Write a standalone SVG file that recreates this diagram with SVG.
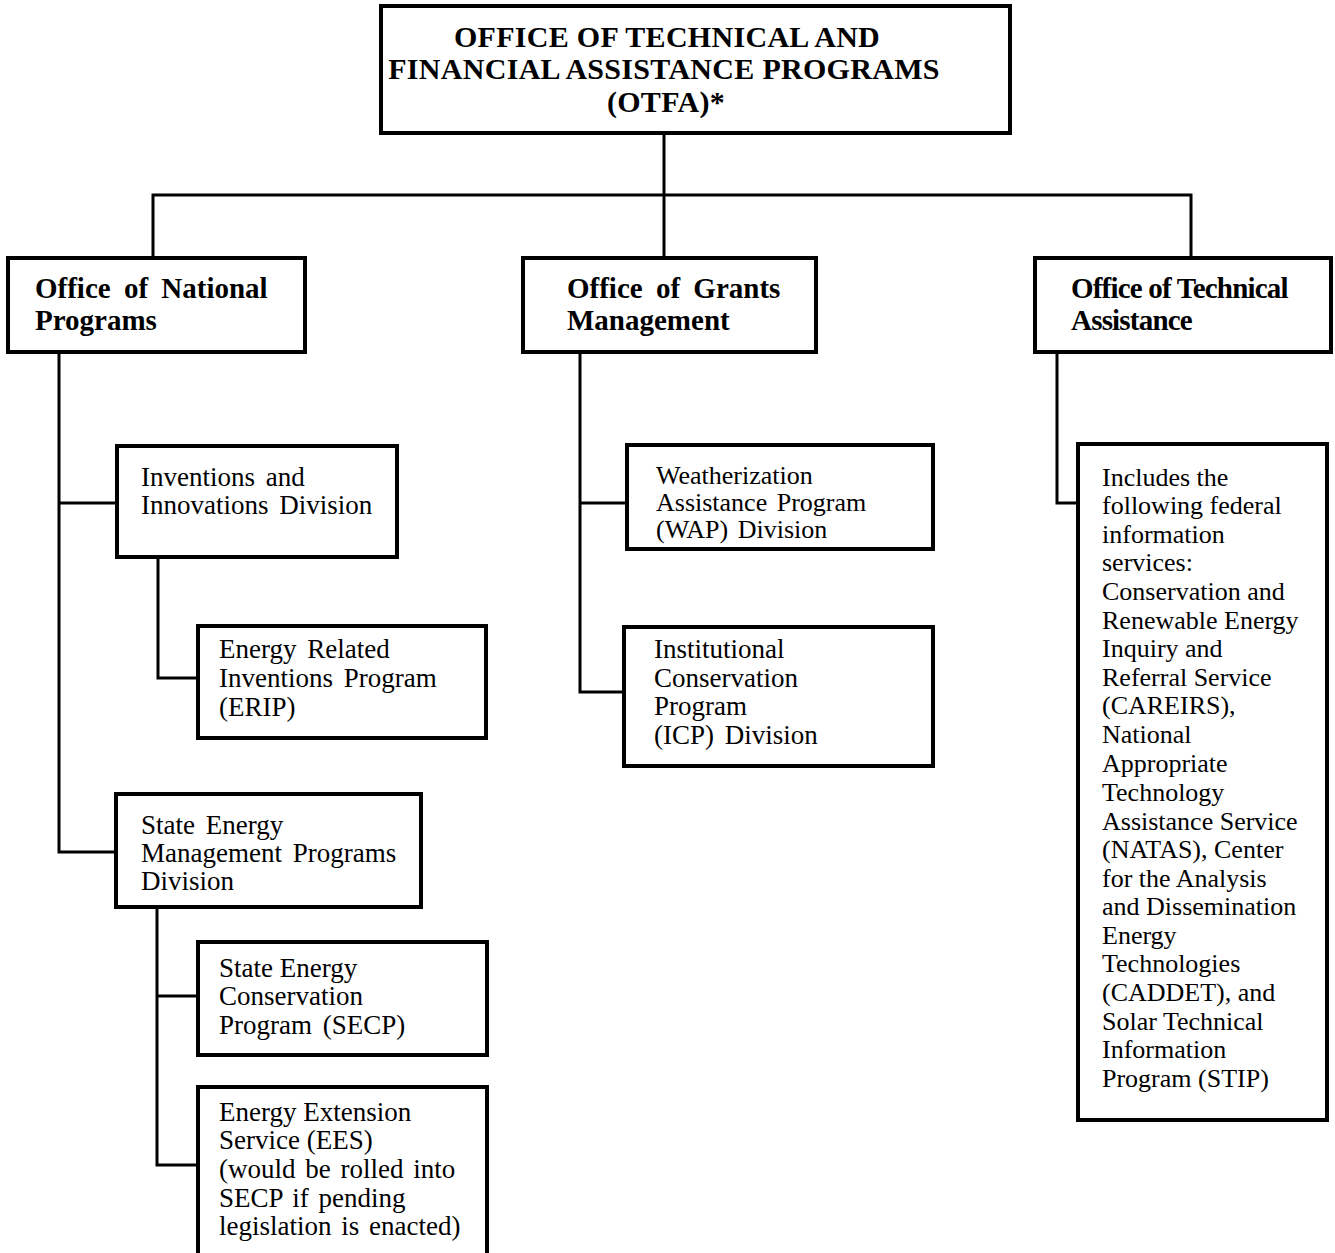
<svg xmlns="http://www.w3.org/2000/svg" width="1335" height="1253" viewBox="0 0 1335 1253">
<style>
.box{fill:#fff;stroke:#000;stroke-width:4}
.con{fill:none;stroke:#000;stroke-width:3}
.t{font-family:"Liberation Serif","Times New Roman",serif;fill:#000}
.top{font-size:30px;font-weight:bold;text-anchor:middle;letter-spacing:0.3px}
.off{font-size:29px;font-weight:bold}
.sub{font-size:27px}
.wap{font-size:26px}
.inf{font-size:26px}
</style>
<rect width="1335" height="1253" fill="#fff"/>
<g id="connectors">
<polyline class="con" points="664,133 664,195"/>
<polyline class="con" points="153,257 153,195 1191,195 1191,257"/>
<polyline class="con" points="664,195 664,257"/>
<polyline class="con" points="59,352 59,852 116,852"/>
<polyline class="con" points="59,503 117,503"/>
<polyline class="con" points="158,557 158,678 198,678"/>
<polyline class="con" points="157,907 157,1165 198,1165"/>
<polyline class="con" points="157,996 198,996"/>
<polyline class="con" points="580,352 580,692 624,692"/>
<polyline class="con" points="580,503 627,503"/>
<polyline class="con" points="1057,352 1057,503 1078,503"/>
</g>
<g id="otfa">
<rect class="box" x="381" y="6" width="629" height="127"/>
<text class="t top" x="667" y="47">OFFICE OF TECHNICAL AND</text>
<text class="t top" x="664" y="79">FINANCIAL ASSISTANCE PROGRAMS</text>
<text class="t top" x="666" y="112">(OTFA)*</text>
</g>
<g id="national">
<rect class="box" x="8" y="258" width="297" height="94"/>
<text class="t off" x="35" y="298" word-spacing="6">Office of National</text>
<text class="t off" x="35" y="330">Programs</text>
</g>
<g id="grants">
<rect class="box" x="523" y="258" width="293" height="94"/>
<text class="t off" x="567" y="298" word-spacing="6">Office of Grants</text>
<text class="t off" x="567" y="330">Management</text>
</g>
<g id="technical">
<rect class="box" x="1035" y="258" width="296" height="94"/>
<text class="t off" x="1071" y="298" letter-spacing="-0.8">Office of Technical</text>
<text class="t off" x="1071" y="330" letter-spacing="-0.8">Assistance</text>
</g>
<g id="inventions">
<rect class="box" x="117" y="446" width="280" height="111"/>
<text class="t sub" x="141" y="486" word-spacing="4">Inventions and</text>
<text class="t sub" x="141" y="514" word-spacing="4">Innovations Division</text>
</g>
<g id="erip">
<rect class="box" x="198" y="626" width="288" height="112"/>
<text class="t sub" x="219" y="658" word-spacing="4">Energy Related</text>
<text class="t sub" x="219" y="687" word-spacing="4">Inventions Program</text>
<text class="t sub" x="219" y="716">(ERIP)</text>
</g>
<g id="semp">
<rect class="box" x="116" y="794" width="305" height="113"/>
<text class="t sub" x="141" y="834" word-spacing="4">State Energy</text>
<text class="t sub" x="141" y="862" word-spacing="4">Management Programs</text>
<text class="t sub" x="141" y="890">Division</text>
</g>
<g id="secp">
<rect class="box" x="198" y="942" width="289" height="113"/>
<text class="t sub" x="219" y="977">State Energy</text>
<text class="t sub" x="219" y="1005">Conservation</text>
<text class="t sub" x="219" y="1034" word-spacing="4">Program (SECP)</text>
</g>
<g id="ees">
<rect class="box" x="198" y="1087" width="289" height="170"/>
<text class="t sub" x="219" y="1121">Energy Extension</text>
<text class="t sub" x="219" y="1149">Service (EES)</text>
<text class="t sub" x="219" y="1178" word-spacing="3">(would be rolled into</text>
<text class="t sub" x="219" y="1207" word-spacing="3">SECP if pending</text>
<text class="t sub" x="219" y="1235" word-spacing="3">legislation is enacted)</text>
</g>
<g id="wap">
<rect class="box" x="627" y="445" width="306" height="104"/>
<text class="t wap" x="656" y="484" word-spacing="3">Weatherization</text>
<text class="t wap" x="656" y="511" word-spacing="3">Assistance Program</text>
<text class="t wap" x="656" y="538" word-spacing="3">(WAP) Division</text>
</g>
<g id="icp">
<rect class="box" x="624" y="627" width="309" height="139"/>
<text class="t sub" x="654" y="658">Institutional</text>
<text class="t sub" x="654" y="687">Conservation</text>
<text class="t sub" x="654" y="715">Program</text>
<text class="t sub" x="654" y="744" word-spacing="4">(ICP) Division</text>
</g>
<g id="services">
<rect class="box" x="1078" y="444" width="249" height="676"/>
<text class="t inf" x="1102">
<tspan x="1102" y="486">Includes the</tspan>
<tspan x="1102" y="514">following federal</tspan>
<tspan x="1102" y="543">information</tspan>
<tspan x="1102" y="571">services:</tspan>
<tspan x="1102" y="600">Conservation and</tspan>
<tspan x="1102" y="629">Renewable Energy</tspan>
<tspan x="1102" y="657">Inquiry and</tspan>
<tspan x="1102" y="686">Referral Service</tspan>
<tspan x="1102" y="714">(CAREIRS),</tspan>
<tspan x="1102" y="743">National</tspan>
<tspan x="1102" y="772">Appropriate</tspan>
<tspan x="1102" y="801">Technology</tspan>
<tspan x="1102" y="830">Assistance Service</tspan>
<tspan x="1102" y="858">(NATAS), Center</tspan>
<tspan x="1102" y="887">for the Analysis</tspan>
<tspan x="1102" y="915">and Dissemination</tspan>
<tspan x="1102" y="944">Energy</tspan>
<tspan x="1102" y="972">Technologies</tspan>
<tspan x="1102" y="1001">(CADDET), and</tspan>
<tspan x="1102" y="1030">Solar Technical</tspan>
<tspan x="1102" y="1058">Information</tspan>
<tspan x="1102" y="1087">Program (STIP)</tspan>
</text>
</g>
</svg>
